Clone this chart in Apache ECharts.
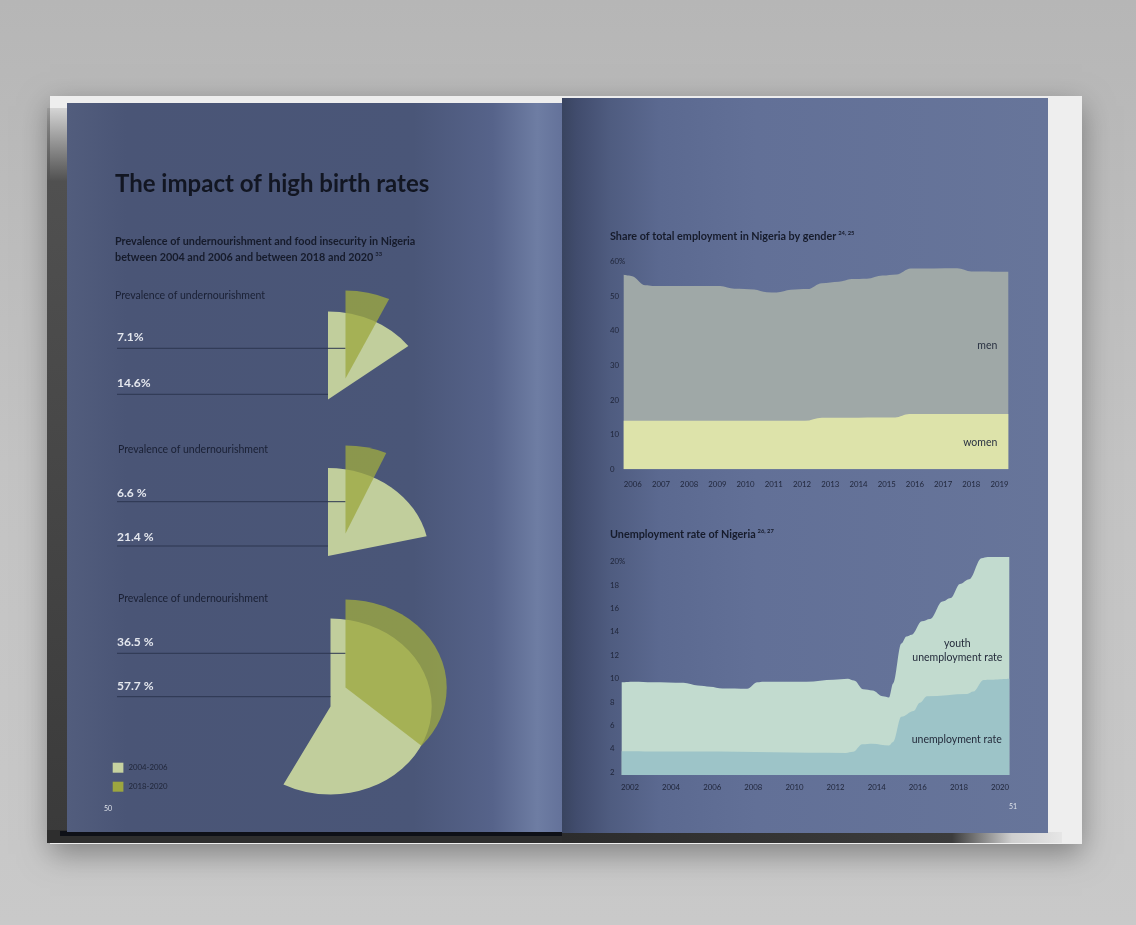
<!DOCTYPE html>
<html lang="en">

<head>
  <meta charset="UTF-8">
  <meta name="viewport" content="width=device-width, initial-scale=1.0">
  <title>The impact of high birth rates</title>
  <script src="https://cdn.jsdelivr.net/npm/echarts@6.0.0/dist/echarts.min.js"></script>
  <style>
    html, body {
      margin: 0;
      padding: 0;
      background: #c2c2c2;
    }
    #echarts {
      width: 1136px;
      height: 925px;
    }
  </style>
</head>

<body>
  <div id="echarts"></div>

<script>

  // undernourishment / food insecurity in Nigeria (%), one pair per pie block
  const blockCaptions = ['Prevalence of undernourishment', 'Prevalence of undernourishment', 'Prevalence of undernourishment'];
  const share0406 = [14.6, 21.4, 57.7];
  const share1820 = [7.1, 6.6, 36.5];
  const periodNames = ['2004-2006', '2018-2020'];

  // share of total employment by gender (%)
  const empYears = [2005.68, 2005.95, 2006.45, 2006.7, 2009.1, 2009.6, 2010.3, 2010.75, 2011.1, 2011.6, 2012.2,
    2012.7, 2013.3, 2013.75, 2014.3, 2014.85, 2015.35, 2015.85, 2017.5, 2018.0, 2019.31];
  const menShare = [56.2, 55.9, 53.2, 53.0, 53.0, 52.2, 52.0, 51.2, 51.1, 51.9, 52.1,
    53.8, 54.2, 55.0, 55.1, 56.0, 56.3, 58.0, 58.1, 57.2, 57.1];
  const womenYears = [2005.68, 2012.1, 2012.7, 2015.3, 2015.8, 2019.31];
  const womenShare = [14, 14, 14.9, 15, 16, 16];
  const empTicks = [2006, 2007, 2008, 2009, 2010, 2011, 2012, 2013, 2014, 2015, 2016, 2017, 2018, 2019];
  const empValueTicks = [0, 10, 20, 30, 40, 50, 60];

  // unemployment rate of Nigeria (%)
  const youthYears = [2001.6, 2002.2, 2003.1, 2004.6, 2005.3, 2005.9, 2006.5, 2007.7, 2008.2, 2008.5, 2010.6,
    2011.9, 2012.6, 2012.9, 2013.35, 2013.8, 2014.3, 2014.6, 2014.8, 2015.2, 2015.45, 2015.7, 2016.2, 2016.6,
    2017.2, 2017.6, 2018.05, 2018.5, 2019.1, 2019.4, 2020.45];
  const youthRate = [9.7, 9.75, 9.7, 9.65, 9.42, 9.32, 9.17, 9.15, 9.7, 9.75, 9.75,
    9.92, 10.0, 9.85, 9.1, 9.0, 8.5, 8.4, 9.6, 13.0, 13.6, 13.75, 14.9, 15.1,
    16.6, 16.9, 18.1, 18.5, 20.3, 20.4, 20.4];
  const unempYears = [2001.6, 2005.4, 2012.5, 2012.85, 2013.3, 2013.8, 2014.6, 2014.8, 2015.2, 2015.8, 2016.1,
    2016.45, 2018.4, 2018.7, 2019.2, 2020.45];
  const unempRate = [3.8, 3.77, 3.65, 3.75, 4.4, 4.45, 4.3, 4.6, 6.75, 7.25, 7.95,
    8.5, 8.7, 8.9, 9.9, 10.0];
  const unempTicks = [2002, 2004, 2006, 2008, 2010, 2012, 2014, 2016, 2018, 2020];
  const unempValueTicks = [2, 4, 6, 8, 10, 12, 14, 16, 18, 20];

  // ---- layout & styles ----
  const FONT = 'Lato, "Noto Sans", sans-serif';
  const INK = '#161b2b';
  const LIGHT = '#c1ce9c';
  const OLIVE = '#9ea941';

  const PIE_RY = 88;
  const PIE_STRETCH = 1.15;  // the sectors are a bit wider than tall
  const lightCenters = [[328, 399.5], [328, 556], [330.5, 706.5]];
  const oliveCenters = [[345.5, 378.5], [345.5, 533.5], [345.5, 687.5]];
  const captionPos = [[115, 296], [118, 450], [118, 598.5]];
  const valueRowY = [[336.7, 382.7], [493.3, 537.3], [641.7, 686]];
  const leaderRowY = [[348.3, 394.3], [501.7, 546], [653.3, 696.7]];

  const toPairs = (xs, ys) => xs.map((x, i) => [x, ys[i]]);
  const pct = (v, i) => v.toFixed(1) + (i === 0 ? '%' : ' %');

  function sectorRenderer(centers, color, opacity) {
    return function (params, api) {
      const c = centers[params.dataIndex];
      const a0 = -Math.PI / 2;
      return {
        type: 'sector',
        x: c[0],
        y: c[1],
        scaleX: PIE_STRETCH,
        shape: {
          cx: 0, cy: 0, r0: 0, r: PIE_RY,
          startAngle: a0,
          endAngle: a0 + api.value(0) / 100 * Math.PI * 2,
          clockwise: true
        },
        style: { fill: color, opacity: opacity }
      };
    };
  }

  // ---- book mock-up (paper, pages, shadows) ----
  const graphics = [
    {
      type: 'rect', z: 0, silent: true,
      shape: { x: 0, y: 0, width: 1136, height: 925 },
      style: {
        fill: new echarts.graphic.LinearGradient(0, 0, 0, 1, [
          { offset: 0, color: '#b6b6b6' }, { offset: 0.5, color: '#c3c3c3' }, { offset: 1, color: '#c9c9c9' }
        ])
      }
    },
    {
      type: 'rect', z: 0, silent: true,
      shape: { x: 50, y: 96, width: 1032, height: 748 },
      style: { fill: '#eeeeee', shadowBlur: 28, shadowColor: 'rgba(0,0,0,0.35)', shadowOffsetY: 10 }
    },
    {
      type: 'rect', z: 0, silent: true,
      shape: { x: 47, y: 108, width: 20, height: 735 },
      style: {
        fill: new echarts.graphic.LinearGradient(0, 0, 0, 1, [
          { offset: 0, color: 'rgba(70,70,70,0.15)' }, { offset: 0.1, color: '#505050' }, { offset: 1, color: '#3a3a3a' }
        ])
      }
    },
    {
      type: 'rect', z: 0, silent: true,
      shape: { x: 47, y: 830, width: 515, height: 13 },
      style: { fill: '#2e2e2e' }
    },
    {
      type: 'rect', z: 0, silent: true,
      shape: { x: 60, y: 831, width: 502, height: 5 },
      style: { fill: '#0e1017' }
    },
    {
      type: 'rect', z: 0, silent: true,
      shape: { x: 562, y: 832, width: 500, height: 11 },
      style: {
        fill: new echarts.graphic.LinearGradient(0, 0, 1, 0, [
          { offset: 0, color: '#2c2c2c' }, { offset: 0.78, color: '#3c3c3c' },
          { offset: 0.9, color: '#cfcfcf' }, { offset: 1, color: '#e6e6e6' }
        ])
      }
    },
    {
      type: 'rect', z: 0, silent: true,
      shape: { x: 67, y: 103, width: 495, height: 729 },
      style: {
        fill: new echarts.graphic.LinearGradient(0, 0, 1, 0, [
          { offset: 0, color: '#525d7d' }, { offset: 0.12, color: '#4a5576' },
          { offset: 0.7, color: '#4a5678' }, { offset: 0.86, color: '#56638a' },
          { offset: 0.95, color: '#6e7da3' }, { offset: 1, color: '#64729a' }
        ])
      }
    },
    {
      type: 'rect', z: 0, silent: true,
      shape: { x: 562, y: 98, width: 486, height: 735 },
      style: {
        fill: new echarts.graphic.LinearGradient(0, 0, 1, 0, [
          { offset: 0, color: '#39445f' }, { offset: 0.03, color: '#414c6d' },
          { offset: 0.1, color: '#4f5c80' }, { offset: 0.2, color: '#5b6990' },
          { offset: 0.4, color: '#627097' }, { offset: 1, color: '#67759a' }
        ])
      }
    }
  ];

  // ---- texts ----
  const text = (x, y, str, font, fill, align, extra) => ({
    type: 'text', z: 6, silent: true, x: x, y: y,
    style: Object.assign({ text: str, font: font, fill: fill, align: align || 'left', verticalAlign: 'middle' }, extra || {})
  });
  const supRich = {
    b: { fontFamily: FONT, fontWeight: 'bold', fontSize: 10.8, color: INK },
    sup: { fontFamily: FONT, fontWeight: 'bold', fontSize: 5.8, color: INK, verticalAlign: 'top', padding: [0, 0, 0, 2] }
  };

  graphics.push(
    text(115, 184, 'The impact of high birth rates', 'bold 24px ' + FONT, '#121622'),
    text(115, 241.7, 'Prevalence of undernourishment and food insecurity in Nigeria', 'bold 10.8px ' + FONT, INK),
    text(115, 257.7, '{b|between 2004 and 2006 and between 2018 and 2020}{sup|33}', 'bold 10.8px ' + FONT, INK, 'left', { rich: supRich, lineHeight: 13 }),
    text(610, 236.7, '{b|Share of total employment in Nigeria by gender}{sup|24, 25}', 'bold 10.8px ' + FONT, INK, 'left', { rich: supRich, lineHeight: 13 }),
    text(610, 535, '{b|Unemployment rate of Nigeria}{sup|26, 27}', 'bold 10.8px ' + FONT, INK, 'left', { rich: supRich, lineHeight: 13 }),
    text(104, 809, '50', '7px ' + FONT, '#dfe3ea'),
    text(1009, 806.7, '51', '7px ' + FONT, '#dfe3ea'),
    text(997.3, 345.7, 'men', '10.5px ' + FONT, '#2a3242', 'right'),
    text(997.3, 442.3, 'women', '10.5px ' + FONT, '#2a3242', 'right'),
    text(957.3, 644, 'youth', '10.5px ' + FONT, '#242b3b', 'center'),
    text(957.3, 657.7, 'unemployment rate', '10.5px ' + FONT, '#242b3b', 'center'),
    text(956.7, 740, 'unemployment rate', '10.5px ' + FONT, '#242b3b', 'center')
  );

  // captions, value labels and leader lines for each pie block
  blockCaptions.forEach((caption, i) => {
    graphics.push(text(captionPos[i][0], captionPos[i][1], caption, '10.5px ' + FONT, '#1a2034'));
    graphics.push(text(117, valueRowY[i][0], pct(share1820[i], i), 'bold 12px ' + FONT, '#e4e7ee'));
    graphics.push(text(117, valueRowY[i][1], pct(share0406[i], i), 'bold 12px ' + FONT, '#e4e7ee'));
    graphics.push({
      type: 'line', z: 5, silent: true,
      shape: { x1: 117, y1: leaderRowY[i][0], x2: oliveCenters[i][0], y2: leaderRowY[i][0] },
      style: { stroke: '#2c3650', lineWidth: 1 }
    });
    graphics.push({
      type: 'line', z: 5, silent: true,
      shape: { x1: 117, y1: leaderRowY[i][1], x2: lightCenters[i][0], y2: leaderRowY[i][1] },
      style: { stroke: '#2c3650', lineWidth: 1 }
    });
  });

  // ---- axes helpers ----
  const axisText = { fontFamily: FONT, fontSize: 7.8, color: '#1f2539' };

  function xAxisOf(grid, min, max, ticks, margin) {
    return {
      type: 'value', gridIndex: grid, min: min, max: max,
      axisLine: { show: false }, axisTick: { show: false }, splitLine: { show: false },
      axisLabel: Object.assign({ customValues: ticks, margin: margin, formatter: v => String(Math.round(v)), verticalAlign: 'top' }, axisText)
    };
  }

  function yAxisOf(grid, min, max, ticks, margin, topLabel) {
    return {
      type: 'value', gridIndex: grid, min: min, max: max,
      axisLine: { show: false }, axisTick: { show: false }, splitLine: { show: false },
      axisLabel: Object.assign({
        customValues: ticks, margin: margin, align: 'left',
        formatter: v => (v === topLabel ? v + '%' : String(v))
      }, axisText)
    };
  }

  function area(name, grid, data, color) {
    return {
      name: name, type: 'line', xAxisIndex: grid, yAxisIndex: grid,
      data: data, smooth: 0.35, smoothMonotone: 'x', symbol: 'none', silent: true,
      lineStyle: { width: 0 },
      areaStyle: { color: color, opacity: 1, origin: 'start' },
      z: 2
    };
  }

  let myChart = echarts.init(document.getElementById('echarts'));

  myChart.setOption({
    animation: false,
    graphic: graphics,
    legend: {
      left: 112.7,
      top: 762.7,
      orient: 'vertical',
      icon: 'rect',
      itemWidth: 10.7,
      itemHeight: 10,
      itemGap: 9,
      padding: 0,
      selectedMode: false,
      textStyle: { fontFamily: FONT, fontSize: 7.8, color: '#1f2538' },
      data: [
        { name: periodNames[0], itemStyle: { color: '#c6d2a0' } },
        { name: periodNames[1], itemStyle: { color: '#9ca63f' } }
      ]
    },
    grid: [
      { left: 623.7, top: 261.7, width: 384.6, height: 207.6 },
      { left: 621.7, top: 550, width: 387.6, height: 225 }
    ],
    xAxis: [
      xAxisOf(0, 2005.68, 2019.31, empTicks, 11),
      xAxisOf(1, 2001.6, 2020.45, unempTicks, 8)
    ],
    yAxis: [
      yAxisOf(0, 0, 60, empValueTicks, 13.7, 60),
      yAxisOf(1, 1.77, 21, unempValueTicks, 11.7, 20)
    ],
    series: [
      {
        name: periodNames[0], type: 'custom', coordinateSystem: 'none', silent: true, z: 3,
        itemStyle: { color: LIGHT },
        data: share0406.map(v => [v]),
        renderItem: sectorRenderer(lightCenters, LIGHT, 1)
      },
      {
        name: periodNames[1], type: 'custom', coordinateSystem: 'none', silent: true, z: 7,
        itemStyle: { color: OLIVE },
        data: share1820.map(v => [v]),
        renderItem: sectorRenderer(oliveCenters, OLIVE, 0.78)
      },
      area('men', 0, toPairs(empYears, menShare), '#9fa8a7'),
      area('women', 0, toPairs(womenYears, womenShare), '#dde3aa'),
      area('youth unemployment rate', 1, toPairs(youthYears, youthRate), '#c2dbcf'),
      area('unemployment rate', 1, toPairs(unempYears, unempRate), '#9dc4c8')
    ]
  });
</script>
</body>

</html>
